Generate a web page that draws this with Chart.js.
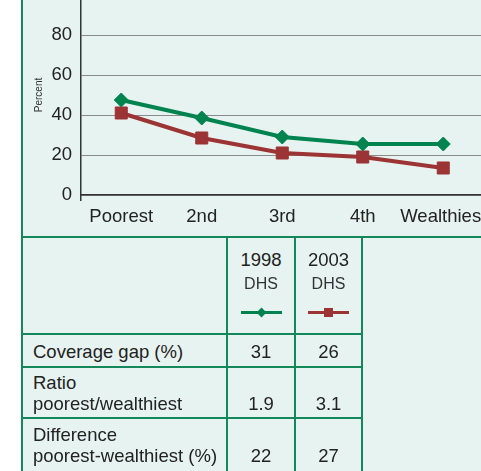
<!DOCTYPE html>
<html>
<head>
<meta charset="utf-8">
<script src="https://cdn.jsdelivr.net/npm/chart.js@4/dist/chart.umd.min.js"></script>
<style>
html,body{margin:0;padding:0;width:481px;height:471px;overflow:hidden;background:#ffffff;font-family:"Liberation Sans",Arial,Helvetica,sans-serif;}
#panel{position:absolute;left:21px;top:0;width:470px;height:471px;background:#e7f3f0;border-left:2px solid #14875b;}
#chartBox{position:absolute;left:23px;top:-30px;width:470px;height:267px;}
.hl{position:absolute;height:2px;background:#14875b;}
.vl{position:absolute;width:2px;background:#14875b;}
.t{position:absolute;color:#222;font-size:18.5px;line-height:21px;white-space:nowrap;}
.c{text-align:center;}
.sub{font-size:16px;color:#333;}
</style>
</head>
<body>
<div id="panel"></div>
<div id="chartBox"><canvas id="chart" width="470" height="267" style="width:470px;height:267px;"></canvas></div>
<div id="table"></div>
<script>
// ---- data ----
const categories = ["Poorest", "2nd", "3rd", "4th", "Wealthiest"];
const dhs1998 = [47.5, 38.5, 29, 25.5, 25.5];
const dhs2003 = [41, 28.5, 21, 19, 13.5];
const yTicks = [0, 20, 40, 60, 80, 100];
const seriesYears = ["1998", "2003"];
const seriesSource = ["DHS", "DHS"];
const rowLabels = [["Coverage gap (%)"], ["Ratio", "poorest/wealthiest"], ["Difference", "poorest-wealthiest (%)"]];
const table1998 = ["31", "1.9", "22"];
const table2003 = ["26", "3.1", "27"];

const GREEN = "#00844f";
const RED = "#9c3334";
const FONT = '"Liberation Sans", Arial, Helvetica, sans-serif';

new Chart(document.getElementById("chart"), {
  type: "line",
  data: {
    labels: categories,
    datasets: [
      {
        label: seriesYears[0] + " " + seriesSource[0],
        data: dhs1998,
        borderColor: GREEN,
        backgroundColor: GREEN,
        borderWidth: 4,
        pointStyle: "rectRot",
        pointRadius: 7,
        pointBorderWidth: 1,
        pointBorderColor: GREEN,
        tension: 0
      },
      {
        label: seriesYears[1] + " " + seriesSource[1],
        data: dhs2003,
        borderColor: RED,
        backgroundColor: RED,
        borderWidth: 4,
        pointStyle: "rect",
        pointRadius: 8.5,
        pointBorderWidth: 1,
        pointBorderColor: RED,
        tension: 0
      }
    ]
  },
  options: {
    responsive: false,
    animation: false,
    devicePixelRatio: 1,
    layout: { padding: { top: 25, right: 9, left: 0, bottom: 0 } },
    plugins: { legend: { display: false }, tooltip: { enabled: false } },
    scales: {
      x: {
        type: "category",
        offset: true,
        grid: {
          offset: true,
          drawOnChartArea: false,
          tickLength: 6,
          lineWidth: 1.5,
          color: (c) => (c.index === 0 ? "#333333" : "rgba(0,0,0,0)")
        },
        border: { color: "#333333", width: 1.5 },
        ticks: { padding: 5, color: "#222222", font: { size: 18.5, family: FONT }, maxRotation: 0, autoSkip: false },
        afterFit: (s) => { s.height = 42; }
      },
      y: {
        min: 0,
        max: 100,
        afterBuildTicks: (s) => { s.ticks = yTicks.map((v) => ({ value: v })); },
        ticks: { padding: 9, color: "#222222", font: { size: 18.5, family: FONT } },
        grid: { color: "#8a8a8a", drawTicks: false, lineWidth: 1 },
        border: { color: "#333333", width: 1.5 },
        title: { display: true, text: "Percent", color: "#333333", font: { size: 10, family: FONT }, padding: { top: 10, bottom: 0 } },
        afterFit: (s) => { s.width = 58; }
      }
    }
  }
});

// ---- table below the chart ----
const tbl = document.getElementById("table");
function add(cls, style, text) {
  const d = document.createElement("div");
  d.className = cls;
  Object.assign(d.style, style);
  if (text !== undefined) d.textContent = text;
  tbl.appendChild(d);
  return d;
}
// grid lines
add("hl", { left: "21px", top: "236px", width: "470px" });
[334, 367, 418].forEach((y) => add("hl", { left: "21px", top: (y - 1) + "px", width: "342px" }));
[227, 295, 362].forEach((x) => add("vl", { left: (x - 1) + "px", top: "237px", height: "240px" }));

const colCenters = [261, 328.5];
const colW = 66;
// header
seriesYears.forEach((yr, i) => {
  add("t c", { left: (colCenters[i] - colW / 2) + "px", top: "249px", width: colW + "px" }, yr);
  add("t c sub", { left: (colCenters[i] - colW / 2) + "px", top: "273px", width: colW + "px" }, seriesSource[i]);
});
// legend symbols
const legendColors = [GREEN, RED];
legendColors.forEach((col, i) => {
  const cx = colCenters[i];
  add("", { position: "absolute", left: (cx - 20.5) + "px", top: "311px", width: "41px", height: "3px", background: col });
  if (i === 0) {
    add("", { position: "absolute", left: (cx - 3.5) + "px", top: "309px", width: "7px", height: "7px", background: col, transform: "rotate(45deg)" });
  } else {
    add("", { position: "absolute", left: (cx - 4.5) + "px", top: "308px", width: "9px", height: "9px", background: col });
  }
});
// rows
const rowTops = [340.5, 372, 424];
rowLabels.forEach((lines, r) => {
  lines.forEach((ln, k) => add("t", { left: "33px", top: (rowTops[r] + k * 20.6) + "px" }, ln));
  const lastTop = rowTops[r] + (lines.length - 1) * 20.6;
  add("t c", { left: (colCenters[0] - colW / 2) + "px", top: lastTop + "px", width: colW + "px" }, table1998[r]);
  add("t c", { left: (colCenters[1] - colW / 2) + "px", top: lastTop + "px", width: colW + "px" }, table2003[r]);
});
</script>
</body>
</html>
